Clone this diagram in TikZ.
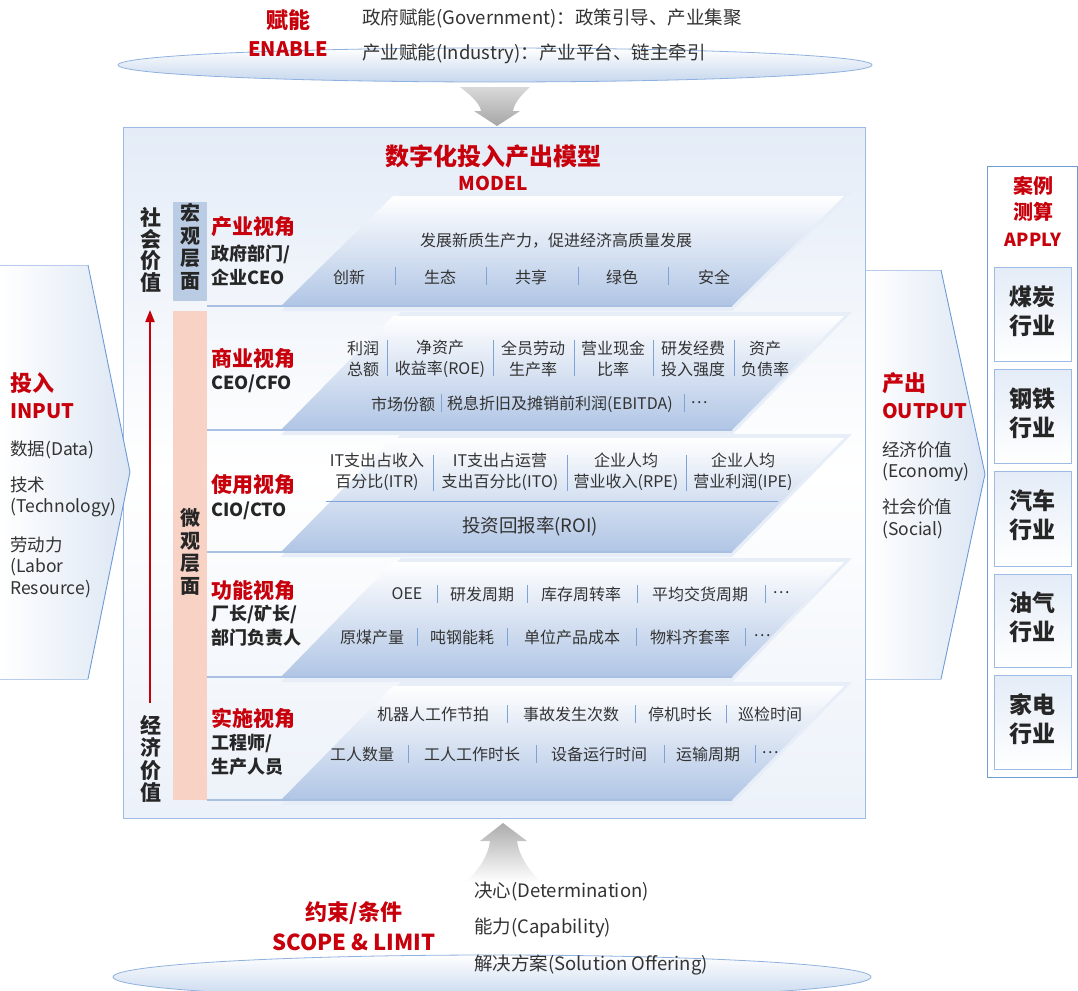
\documentclass[tikz,border=0pt]{standalone}
\usepackage{fontspec}
\setmainfont{Noto Sans CJK SC}
\usetikzlibrary{arrows.meta}
\definecolor{hwred}{HTML}{C7000B}
\definecolor{txt}{HTML}{333333}
\definecolor{boxblue}{HTML}{9DBBE3}
\definecolor{boxtop}{HTML}{E4ECF7}
\definecolor{pblue}{HTML}{B0C5E5}
\definecolor{shadowblue}{HTML}{E8EEF8}
\definecolor{lineblue}{HTML}{A9C0E2}
\definecolor{sepblue}{HTML}{7EA3D6}
\definecolor{macrob}{HTML}{BACCE3}
\definecolor{microb}{HTML}{F9D2C6}
\definecolor{ellb}{HTML}{C6D7EE}
\definecolor{ellline}{HTML}{8FB1DF}
\definecolor{arrowedge}{HTML}{6E9BD6}
\definecolor{arrowfill}{HTML}{DCE6F3}
\newcommand\fs[2]{\fontsize{#1}{#2}\selectfont}
\newcommand\mylayer[2]{%
  \fill[shadowblue] (281,#2+5) -- (732,#2+5) -- (852,#1-4) -- (401,#1-4) -- cycle;
  \path[top color=white, bottom color=pblue] (281,#2) -- (732,#2) -- (844,#1) -- (393,#1) -- cycle;
  \draw[lineblue, line width=1.2pt] (207,#2) -- (732,#2);
}
\tikzset{
  base/.style={inner sep=0pt, text=txt},
  t16/.style={base, font=\fs{16}{21}},
  t16c/.style={t16, align=center},
  t17/.style={base, font=\fs{17.5}{21}, anchor=west},
  t18/.style={base, font=\fs{18.5}{21}, anchor=west},
  redh/.style={inner sep=0pt, text=hwred, font=\bfseries\fs{21}{24}},
  redl/.style={redh, anchor=west},
  blkl/.style={inner sep=0pt, text=black!85, font=\bfseries\fs{18}{24}, anchor=west, align=left},
  sepl/.style={draw=sepblue, line width=1pt},
  vert/.style={inner sep=0pt, align=center, text=black!85, font=\bfseries\fs{20}{22.5}},
  indbox/.style={draw=boxblue, line width=0.8pt, top color=boxtop, bottom color=white},
  indtxt/.style={inner sep=0pt, align=center, text=black!85, font=\bfseries\fs{23}{29}},
}
\begin{document}
\begin{tikzpicture}[x=1pt,y=-1pt]
\useasboundingbox (0,0) rectangle (1078,990);
\fill[white] (0,0) rectangle (1078,990);

% ---------- main model box ----------
\path[draw=boxblue, line width=1pt, top color=boxtop, bottom color=boxtop!70, middle color=white] (123,127) rectangle (865,818);

% ---------- ellipses ----------
\path[top color=white, bottom color=ellb, draw=ellline, line width=0.8pt] (495,65) ellipse [x radius=377, y radius=17];
\path[top color=white, bottom color=ellb, draw=ellline, line width=0.8pt] (492,977) ellipse [x radius=379, y radius=22];

% ---------- gray arrows ----------
\path[top color=gray!30, bottom color=gray!70] (460,87) -- (530,87) .. controls (520,96) and (514,104) .. (513,111) -- (520,111) -- (497,126) -- (474,111) -- (481,111) .. controls (480,104) and (472,96) .. (460,87) -- cycle;
\path[top color=gray!65, bottom color=white] (503,823) -- (527,841) -- (517,841) .. controls (519,856) and (528,868) .. (540,882) -- (466,882) .. controls (480,868) and (488,856) .. (490,841) -- (480,841) -- cycle;

% ---------- input / output arrows ----------
\path[left color=white, right color=arrowfill] (0,265) -- (88,265) -- (130,472) -- (88,679) -- (0,679) -- cycle;
\draw[arrowedge!50, line width=0.8pt] (0,265) -- (88,265);
\draw[arrowedge!50, line width=0.8pt] (0,679) -- (88,679);
\draw[arrowedge, line width=0.9pt] (88,265) -- (130,472) -- (88,679);

\path[left color=white, right color=arrowfill] (866,270) -- (941,270) -- (985,474) -- (941,679) -- (866,679) -- cycle;
\draw[arrowedge!50, line width=0.8pt] (866,270) -- (941,270);
\draw[arrowedge!50, line width=0.8pt] (866,679) -- (941,679);
\draw[arrowedge, line width=0.9pt] (941,270) -- (985,474) -- (941,679);

% ---------- apply column ----------
\draw[arrowedge, line width=1pt, fill=white] (987,166) rectangle (1077,777);
\path[indbox] (994,267) rectangle (1071,361);
\path[indbox] (994,369) rectangle (1071,463);
\path[indbox] (994,471) rectangle (1071,566);
\path[indbox] (994,574) rectangle (1071,667);
\path[indbox] (994,675) rectangle (1071,769);
\node[indtxt] (coal) at (1032.5,311) {煤炭\\行业};
\node[indtxt] (steel) at (1032.5,413) {钢铁\\行业};
\node[indtxt] (auto) at (1032.5,515) {汽车\\行业};
\node[indtxt] (oil) at (1032.5,617) {油气\\行业};
\node[indtxt] (appl) at (1032.5,719) {家电\\行业};
\node[redh, font=\bfseries\fs{20}{26}, align=center] (case) at (1033,199) {案例\\测算};
\node[redh, font=\bfseries\fs{18}{22}] (apply) at (1033,240) {APPLY};

% ---------- layers ----------
\mylayer{196}{306}
\mylayer{316}{430}
\mylayer{438}{552}
\mylayer{562}{677}
\mylayer{686}{800}

% ---------- side bars ----------
\fill[macrob] (173,202) rectangle (207,301);
\fill[microb] (173,311) rectangle (207,800);
\node[vert] (hong) at (190,247) {宏\\观\\层\\面};
\node[vert] (wei) at (190,552) {微\\观\\层\\面};
\node[vert, font=\bfseries\fs{21}{21.8}] (shehui) at (151,250) {社\\会\\价\\值};
\node[vert, font=\bfseries\fs{21}{22.3}] (jingji) at (151,759) {经\\济\\价\\值};
\coordinate (rb) at (150,703);
\coordinate (rt) at (150,310);
\draw[hwred, line width=2pt, -{Triangle[length=12pt,width=9pt]}] (rb) -- (rt);

% ---------- titles ----------
\node[redh, font=\bfseries\fs{24}{28}] (title) at (493,156) {数字化投入产出模型};
\node[redh, font=\bfseries\fs{19}{22}] (model) at (493,183) {MODEL};

% ---------- layer labels ----------
\node[redl] (l1h) at (211,227) {产业视角};
\node[blkl] (l1s) at (211,265) {政府部门/\\企业CEO};
\node[redl] (l2h) at (211,359) {商业视角};
\node[blkl] (l2s) at (211,384) {CEO/CFO};
\node[redl] (l3h) at (211,485) {使用视角};
\node[blkl] (l3s) at (211,511) {CIO/CTO};
\node[redl] (l4h) at (211,591) {功能视角};
\node[blkl] (l4s) at (211,626) {厂长/矿长/\\部门负责人};
\node[redl] (l5h) at (211,718) {实施视角};
\node[blkl] (l5s) at (211,755) {工程师/\\生产人员};

% ---------- layer 1 ----------
\node[t16] (l1t) at (556,241) {发展新质生产力，促进经济高质量发展};
\node[t16] (l1a) at (349,277) {创新};
\node[t16] (l1b) at (440,277) {生态};
\node[t16] (l1c) at (531,277) {共享};
\node[t16] (l1d) at (622,277) {绿色};
\node[t16] (l1e) at (714,277) {安全};
\foreach \x in {395,486,578,668} \draw[sepl] (\x,267) -- (\x,285);

% ---------- layer 2 ----------
\node[t16c] (l2a) at (363,358.5) {利润\\总额};
\node[t16c] (l2b) at (440,358.5) {净资产\\收益率(ROE)};
\node[t16c] (l2c) at (533,358.5) {全员劳动\\生产率};
\node[t16c] (l2d) at (613,358.5) {营业现金\\比率};
\node[t16c] (l2e) at (693,358.5) {研发经费\\投入强度};
\node[t16c] (l2f) at (765,358.5) {资产\\负债率};
\foreach \x in {387,493,574,653,734} \draw[sepl] (\x,340) -- (\x,376);
\node[t16] (l2g) at (403,404) {市场份额};
\node[t16] (l2h) at (560,404) {税息折旧及摊销前利润(EBITDA)};
\node[t16] (l2i) at (699,403) {…};
\foreach \x in {441,684} \draw[sepl] (\x,394) -- (\x,412);

% ---------- layer 3 ----------
\node[t16c] (l3a) at (377,472) {IT支出占收入\\百分比(ITR)};
\node[t16c] (l3b) at (500,472) {IT支出占运营\\支出百分比(ITO)};
\node[t16c] (l3c) at (626,472) {企业人均\\营业收入(RPE)};
\node[t16c] (l3d) at (743,472) {企业人均\\营业利润(IPE)};
\foreach \x in {433,567,686} \draw[sepl] (\x,455) -- (\x,491);
\coordinate (l3la) at (326,501);
\coordinate (l3lb) at (778,501);
\draw[sepl] (l3la) -- (l3lb);
\node[t16, font=\fs{18.5}{22}] (l3e) at (530,526) {投资回报率(ROI)};

% ---------- layer 4 ----------
\node[t16] (l4a) at (407,594) {OEE};
\node[t16] (l4b) at (482,594) {研发周期};
\node[t16] (l4c) at (581,594) {库存周转率};
\node[t16] (l4d) at (700,594) {平均交货周期};
\node[t16] (l4e) at (781,593) {…};
\foreach \x in {437,527,637,765} \draw[sepl] (\x,585) -- (\x,603);
\node[t16] (l4f) at (372,637) {原煤产量};
\node[t16] (l4g) at (462,637) {吨钢能耗};
\node[t16] (l4h) at (572,637) {单位产品成本};
\node[t16] (l4i) at (690,637) {物料齐套率};
\node[t16] (l4j) at (762,636) {…};
\foreach \x in {417,507,636,745} \draw[sepl] (\x,628) -- (\x,646);

% ---------- layer 5 ----------
\node[t16] (l5a) at (433,714) {机器人工作节拍};
\node[t16] (l5b) at (571,714) {事故发生次数};
\node[t16] (l5c) at (680,714) {停机时长};
\node[t16] (l5d) at (770,714) {巡检时间};
\foreach \x in {507,635,726} \draw[sepl] (\x,705) -- (\x,723);
\node[t16] (l5e) at (362,754) {工人数量};
\node[t16] (l5f) at (472,754) {工人工作时长};
\node[t16] (l5g) at (599,754) {设备运行时间};
\node[t16] (l5h) at (708,754) {运输周期};
\node[t16] (l5i) at (770,753) {…};
\foreach \x in {408,536,664,755} \draw[sepl] (\x,745) -- (\x,763);

% ---------- enable ----------
\node[redh, font=\bfseries\fs{22}{24}] (enzh) at (288,20) {赋能};
\node[redh, font=\bfseries\fs{20}{22}] (enen) at (288,49) {ENABLE};
\node[t18] (gov) at (362,18) {政府赋能(Government)：政策引导、产业集聚};
\node[t18] (ind) at (362,54) {产业赋能(Industry)：产业平台、链主牵引};

% ---------- input ----------
\node[redl, font=\bfseries\fs{22}{24}] (inzh) at (10,383) {投入};
\node[redl, font=\bfseries\fs{20}{24}] (inen) at (10,411) {INPUT};
\node[t17] (in1) at (10,450) {数据(Data)};
\node[t17] (in2) at (10,485) {技术};
\node[t17] (in3) at (10,508) {(Technology)};
\node[t17] (in4) at (10,545) {劳动力};
\node[t17] (in5) at (10,567) {(Labor};
\node[t17] (in6) at (10,589) {Resource)};

% ---------- output ----------
\node[redl, font=\bfseries\fs{22}{24}] (outzh) at (882,383) {产出};
\node[redl, font=\bfseries\fs{20}{24}] (outen) at (882,411) {OUTPUT};
\node[t17] (out1) at (882,450) {经济价值};
\node[t17] (out2) at (882,472) {(Economy)};
\node[t17] (out3) at (882,507) {社会价值};
\node[t17] (out4) at (882,530) {(Social)};

% ---------- scope ----------
\node[redh, font=\bfseries\fs{22}{24}] (sczh) at (354,913) {约束/条件};
\node[redh, font=\bfseries\fs{22}{24}] (scen) at (354,942) {SCOPE \& LIMIT};
\node[t18] (sc1) at (474,892) {决心(Determination)};
\node[t18] (sc2) at (474,928) {能力(Capability)};
\node[t18] (sc3) at (474,965) {解决方案(Solution Offering)};
\end{tikzpicture}
\end{document}
